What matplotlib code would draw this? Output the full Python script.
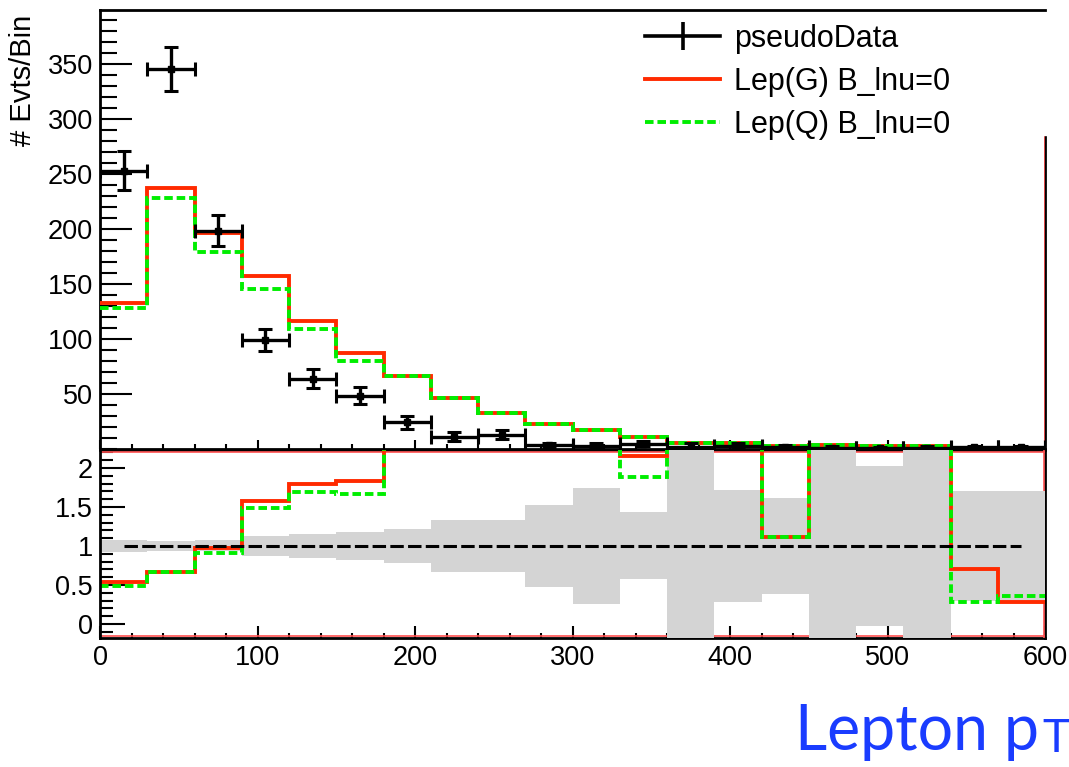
import matplotlib
matplotlib.use('Agg')
import matplotlib.pyplot as plt
from matplotlib.lines import Line2D
from matplotlib.patches import Rectangle
from matplotlib.ticker import MultipleLocator, FixedLocator, FuncFormatter
import numpy as np

plt.rcParams['font.family'] = ['Liberation Sans', 'DejaVu Sans']

# binning of the lepton pT histogram (GeV)
bin_width = 30
bin_edges = np.arange(0, 601, bin_width)
bin_centers = bin_edges[:-1] + bin_width / 2.0

# top pad: events per bin
pseudo_data = [253, 345, 198.5, 99, 64, 48.5, 24.4, 11, 13, 3.5,
               3, 4.9, 2, 3, 2.2, 1, 1, 1, 1.4, 1.4]
pseudo_err = [18, 20, 14, 10, 9, 8, 6, 4, 4, 1.8,
              2.2, 2.1, 3, 2.2, 1.4, 1.5, 1.0, 1.5, 1.0, 1.0]
lep_g = [133, 237, 196, 157.5, 116, 87, 66, 46, 33, 23,
         17.5, 10.5, 5.5, 5.5, 2.5, 3.7, 2.3, 2.3, 1.0, 0.4]
lep_q = [128, 228, 179, 145.5, 109, 80, 66, 46, 33, 23,
         17.5, 10.5, 5.5, 5.5, 2.5, 3.7, 2.3, 2.3, 0.5, 0.5]

# bottom pad: MC / data ratio and relative data uncertainty
ratio_g = [0.536, 0.665, 0.98, 1.58, 1.80, 1.83, 2.75, 4.2, 2.5, 6.6,
           5.8, 2.15, 2.75, 2.5, 1.115, 3.7, 2.3, 2.3, 0.71, 0.28]
ratio_q = [0.49, 0.665, 0.91, 1.49, 1.69, 1.66, 2.75, 4.2, 2.5, 6.6,
           5.8, 1.89, 2.75, 2.5, 1.115, 3.7, 2.3, 2.3, 0.28, 0.36]
ratio_band = [0.075, 0.06, 0.07, 0.13, 0.15, 0.185, 0.22, 0.33, 0.33, 0.53,
              0.74, 0.43, 1.5, 0.72, 0.62, 1.5, 1.03, 1.5, 0.71, 0.71]

legend_labels = ['pseudoData', 'Lep(G) B_lnu=0', 'Lep(Q) B_lnu=0']

red = '#ff2a00'
green = '#00ee00'
band_grey = '#d4d4d4'
green_dash = (0, (2.2, 1.0))

W, H = 1069.0, 767.0
fig = plt.figure(figsize=(W / 100, H / 100), dpi=100)
ax1 = fig.add_axes([100 / W, (H - 449) / H, 945 / W, 439 / H])
ax2 = fig.add_axes([100 / W, (H - 638) / H, 945 / W, 188 / H])

# ---- top pad ----
ax1.stairs(lep_g, bin_edges, baseline=None, color=red, lw=2.8, zorder=3)
ax1.stairs(lep_q, bin_edges, baseline=None, color=green, lw=2.8,
           linestyle=green_dash, zorder=3.1)
ax1.errorbar(bin_centers, pseudo_data, xerr=bin_width / 2.0, yerr=pseudo_err,
             fmt='s', color='k', ms=4, elinewidth=2.4, capsize=5, capthick=2.2,
             zorder=4)

ax1.set_xlim(0, 600)
ax1.set_ylim(0, 399)
ax1.yaxis.set_major_locator(FixedLocator([50, 100, 150, 200, 250, 300, 350]))
ax1.yaxis.set_minor_locator(MultipleLocator(10))
ax1.xaxis.set_major_locator(MultipleLocator(100))
ax1.xaxis.set_minor_locator(MultipleLocator(20))
ax1.tick_params(axis='y', which='major', direction='in', length=23, width=1.5,
                labelsize=19.5, pad=5)
ax1.tick_params(axis='y', which='minor', direction='in', length=12, width=1.5)
ax1.tick_params(axis='x', which='major', direction='in', length=6.5, width=1.5,
                labelbottom=False)
ax1.tick_params(axis='x', which='minor', direction='in', length=3.6, width=1.5)
for s in ax1.spines.values():
    s.set_linewidth(2.0)
ax1.spines['top'].set_zorder(4)
ax1.axvline(600, color='#ff5050', lw=1.2, zorder=2.55)

ax1.text(-0.0667, 0.989, '# Evts/Bin', transform=ax1.transAxes, rotation=90,
         ha='right', va='top', fontsize=21)

# legend sits on a white box that hides the top of the right frame
ax1.add_patch(Rectangle((0.95, 0.715), 0.07, 0.29, transform=ax1.transAxes,
                        color='white', zorder=3.5, clip_on=False))
handles = [Line2D([0], [0], color='k', lw=2.6, marker='|', ms=20, mew=2.6),
           Line2D([0], [0], color=red, lw=2.8),
           Line2D([0], [0], color=green, lw=2.8, linestyle=green_dash)]
leg = ax1.legend(handles, legend_labels, loc='upper left',
                 bbox_to_anchor=(0.577, 0.968), frameon=False, fontsize=22,
                 handlelength=2.45, handletextpad=0.46, labelspacing=0.42,
                 borderpad=0, borderaxespad=0)
leg.set_zorder(5)

# ---- bottom pad ----
ax2.stairs(np.array(ratio_band) + 1, bin_edges,
           baseline=1 - np.array(ratio_band), fill=True, color=band_grey,
           lw=0, zorder=2.6)
ax2.stairs(ratio_g, bin_edges, baseline=None, color=red, lw=2.8, zorder=3)
ax2.stairs(ratio_q, bin_edges, baseline=None, color=green, lw=2.8,
           linestyle=green_dash, zorder=3.1)
ax2.plot([bin_centers[0], bin_centers[-1]], [1, 1], color='k', lw=2.2,
         linestyle=(0, (4.4, 1.4)), zorder=3.2)

ax2.set_xlim(0, 600)
ax2.set_ylim(-0.18, 2.23)
ax2.axhline(2.21, color='#ff5050', lw=1.2, zorder=2.55)
ax2.axhline(-0.16, color='#ff5050', lw=1.2, zorder=2.55)
ax2.axvline(599.2, color='#ff5050', lw=1.2, zorder=2.55)

ax2.yaxis.set_major_locator(MultipleLocator(0.5))
ax2.yaxis.set_minor_locator(MultipleLocator(0.1))
ax2.yaxis.set_major_formatter(FuncFormatter(lambda v, p: '%g' % round(v, 2)))
ax2.xaxis.set_major_locator(MultipleLocator(100))
ax2.xaxis.set_minor_locator(MultipleLocator(20))
ax2.tick_params(axis='y', which='major', direction='in', length=18, width=1.5,
                labelsize=19.5, pad=5)
ax2.tick_params(axis='y', which='minor', direction='in', length=9.4, width=1.5)
ax2.tick_params(axis='x', which='major', direction='in', length=8.6, width=1.5,
                labelsize=19.5, pad=5)
ax2.tick_params(axis='x', which='minor', direction='in', length=3.6, width=1.5)
for s in ax2.spines.values():
    s.set_linewidth(2.0)
ax2.spines['left'].set_zorder(4)

# slide annotation, the small T goes right after the rendered "p"
blue = '#1a3cff'
title = fig.text(795 / W, 17 / H, 'Lepton p', color=blue, fontsize=45,
                 family=['Lato', 'DejaVu Sans'], ha='left', va='baseline')
fig.canvas.draw()
x_end = title.get_window_extent().x1
fig.text((x_end + 3) / W, 15 / H, 'T', color=blue, fontsize=33,
         family=['Lato', 'DejaVu Sans'], ha='left', va='baseline')

fig.savefig('out.png', dpi=100)
